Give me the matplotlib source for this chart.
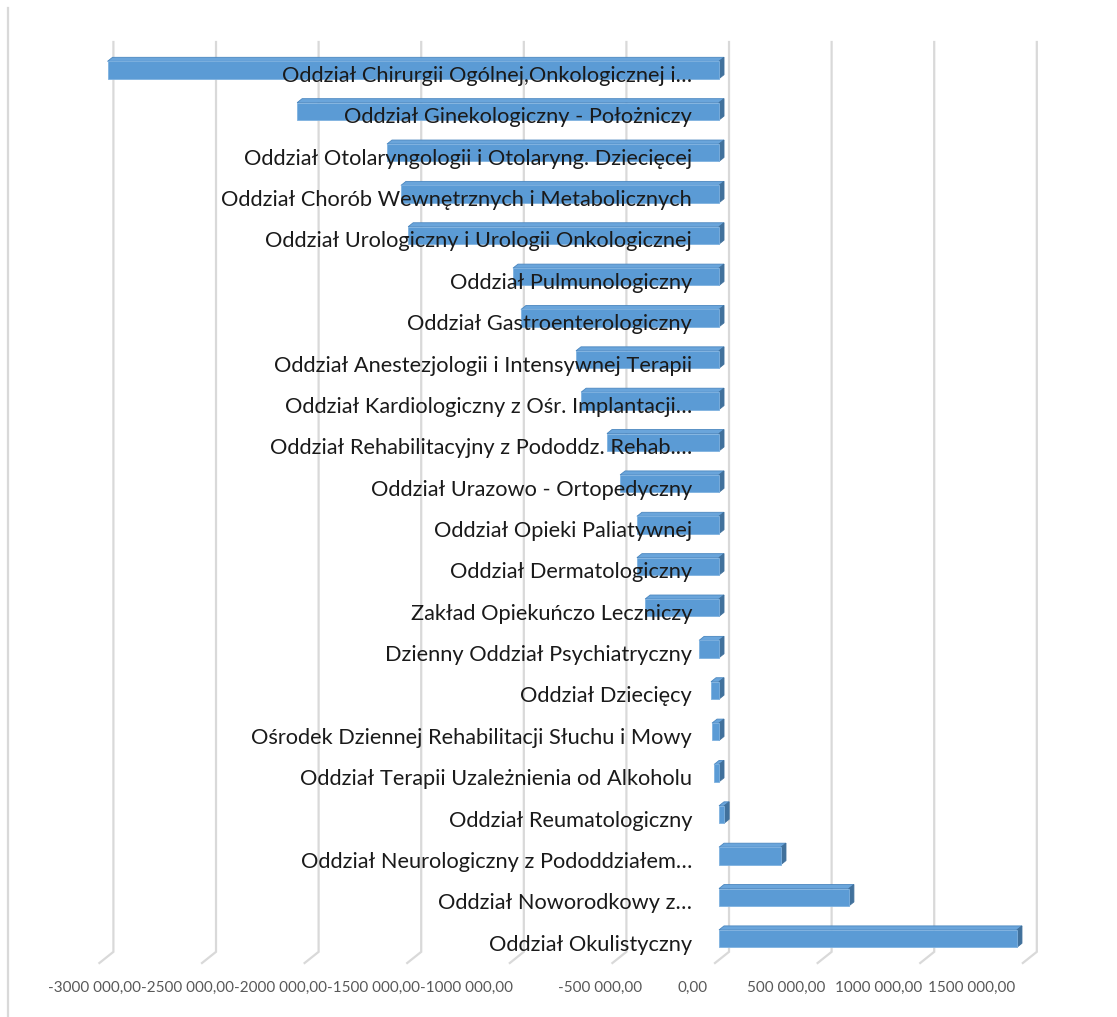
import matplotlib.pyplot as plt
from matplotlib.lines import Line2D
from matplotlib.patches import Polygon
from matplotlib.transforms import offset_copy, ScaledTranslation

plt.rcParams['font.family'] = ['Lato', 'DejaVu Sans']

# data, top row first
oddzialy = [
    "Oddział Chirurgii Ogólnej,Onkologicznej i…",
    "Oddział Ginekologiczny - Położniczy",
    "Oddział Otolaryngologii i Otolaryng. Dziecięcej",
    "Oddział Chorób Wewnętrznych i Metabolicznych",
    "Oddział Urologiczny i Urologii Onkologicznej",
    "Oddział Pulmunologiczny",
    "Oddział Gastroenterologiczny",
    "Oddział Anestezjologii i Intensywnej Terapii",
    "Oddział Kardiologiczny z Ośr. Implantacji…",
    "Oddział Rehabilitacyjny z Pododdz. Rehab.…",
    "Oddział Urazowo - Ortopedyczny",
    "Oddział Opieki Paliatywnej",
    "Oddział Dermatologiczny",
    "Zakład Opiekuńczo Leczniczy",
    "Dzienny Oddział Psychiatryczny",
    "Oddział Dziecięcy",
    "Ośrodek Dziennej Rehabilitacji Słuchu i Mowy",
    "Oddział Terapii Uzależnienia od Alkoholu",
    "Oddział Reumatologiczny",
    "Oddział Neurologiczny z Pododdziałem…",
    "Oddział Noworodkowy z…",
    "Oddział Okulistyczny",
]
wyniki = [
    -2980000, -2056000, -1618000, -1550000, -1515000, -1004000, -965000,
    -697000, -672000, -546000, -482000, -400000, -400000, -360000,
    -97000, -39000, -34000, -24000, 25000, 302000, 633000, 1452000,
]
ticki = [-3000000, -2500000, -2000000, -1500000, -1000000, -500000,
         0, 500000, 1000000, 1500000]
etykiety = ["-3000 000,00", "-2500 000,00", "-2000 000,00", "-1500 000,00",
            "-1000 000,00", "-500 000,00", "0,00", "500 000,00",
            "1000 000,00", "1500 000,00"]

W, H = 1117, 1017
fig = plt.figure(figsize=(W / 100, H / 100), dpi=100)

# main axes (front plane of the 3d chart)
left_px, right_px, top_px, bot_px = 95.2, 1061.7, 30, 975
ax = fig.add_axes([left_px / W, 1 - bot_px / H, (right_px - left_px) / W, (bot_px - top_px) / H])
ax.set_xlim(-3040000, 1670000)
ax.set_ylim(21.88, -0.967)
ax.axis('off')

# pixel -> data units
PX = (1670000 + 3040000) / (right_px - left_px)
ROW = (21.88 + 0.967) / (bot_px - top_px)

# back wall gridlines + floor
grid_col = '#D9D9D9'
for t in ticki:
    xb = t + 10 * PX
    ax.plot([xb, xb, xb - 14 * PX], [-0.677, 21.32, 21.59], color=grid_col, lw=1.6,
            zorder=1, solid_joinstyle='miter')

# 3d bars
h = 0.42
dx, dy = 5 * PX, 4 * ROW
front, topc, side = '#5B9BD5', '#6AA5DB', '#41719C'
for i, v in enumerate(wyniki):
    xl, xr = min(v, 0), max(v, 0)
    yt, yb = i - h / 2, i + h / 2
    ax.add_patch(Polygon([(xl, yt), (xr, yt), (xr + dx, yt - dy), (xl + dx, yt - dy)],
                         closed=True, fc=topc, ec='#4A86BF', lw=0.6, zorder=2))
    ax.add_patch(Polygon([(xr, yt), (xr + dx, yt - dy), (xr + dx, yb - dy), (xr, yb)],
                         closed=True, fc=side, ec=side, lw=0.6, zorder=2))
ax.barh(range(len(wyniki)), wyniki, height=h, color=front, edgecolor='#7FB2E0',
        linewidth=0.6, zorder=3)

# category labels right-aligned at the zero line
lab_tr = offset_copy(ax.transData, fig=fig, x=-27, y=-6, units='dots')
for i, name in enumerate(oddzialy):
    ax.text(0, i, name, transform=lab_tr, ha='right', va='center',
            fontsize=15.7, color='#1A1A1A', zorder=4)

# value axis labels (floor front edge)
l2, r2 = 127.6, 1003.6
ax2 = fig.add_axes([l2 / W, 1 - 978 / H, (r2 - l2) / W, 0.0001])
ax2.set_xlim(-3040000, 1670000)
ax2.set_xticks(ticki)
ax2.set_xticklabels(etykiety, fontsize=11, color='#595959')
ax2.tick_params(axis='x', length=0, pad=2)
ax2.set_yticks([])
for s in ax2.spines.values():
    s.set_visible(False)
ax2.patch.set_visible(False)
# long negative labels are pushed left so they sit side by side
shift = ScaledTranslation(-41 / 100, 0, fig.dpi_scale_trans)
for lbl in ax2.get_xticklabels()[:5]:
    lbl.set_transform(lbl.get_transform() + shift)

# chart area border on the left
fig.add_artist(Line2D([8 / W, 8 / W], [0, 1 - 8 / H], color=grid_col, lw=1.6))

plt.savefig('out.png', dpi=100)
